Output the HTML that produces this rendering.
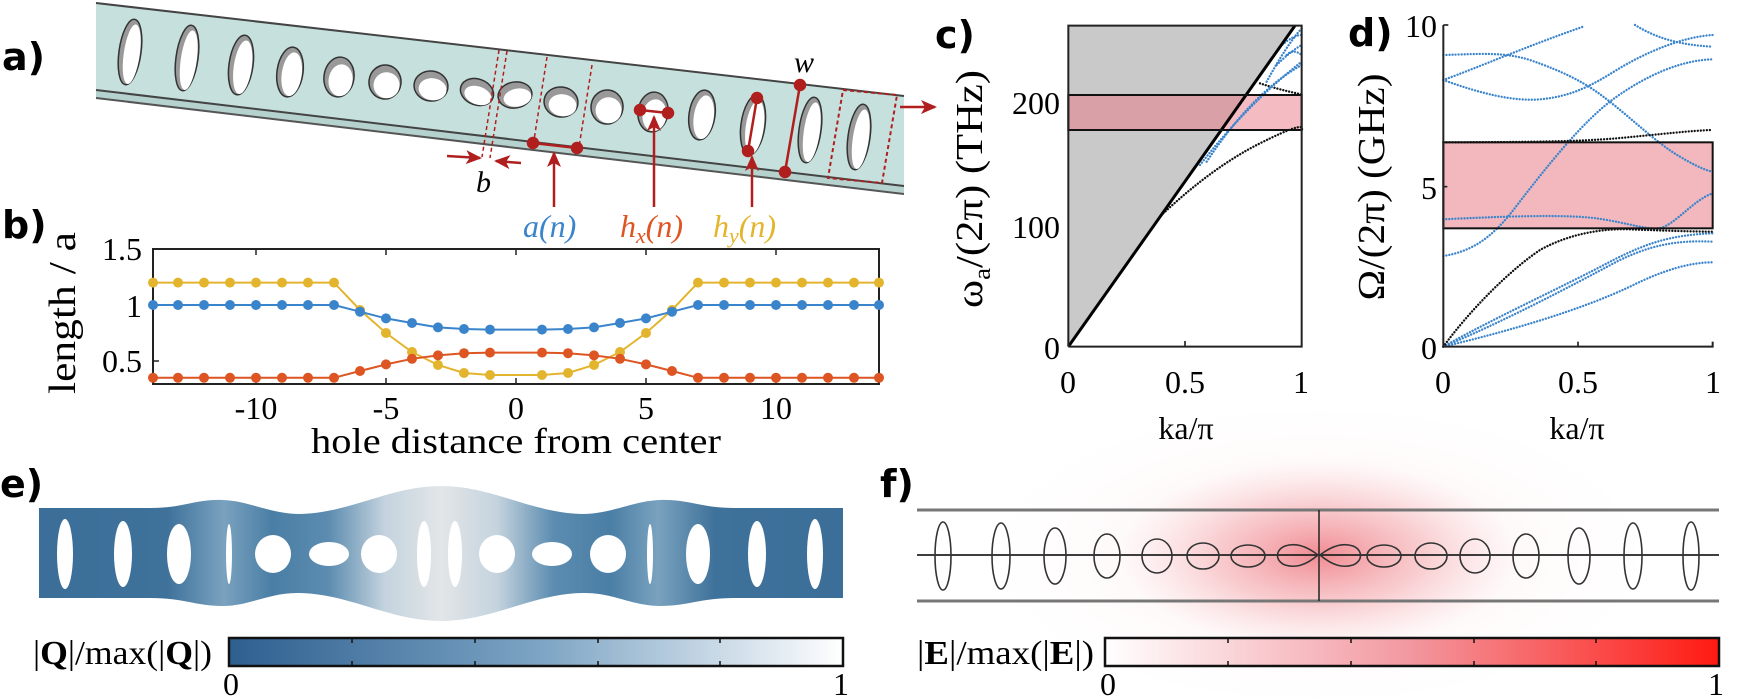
<!DOCTYPE html>
<html><head><meta charset="utf-8"><style>
html,body{margin:0;padding:0;background:#fff;}
svg{display:block;}
.sf{font-family:"Liberation Serif",serif;}
.lb{font-family:"DejaVu Sans","Liberation Sans",sans-serif;font-weight:bold;font-size:38px;}
</style></head><body>
<svg width="1750" height="698" viewBox="0 0 1750 698" xmlns="http://www.w3.org/2000/svg">
<defs>
<marker id="mb" markerUnits="userSpaceOnUse" markerWidth="12" markerHeight="12" refX="6" refY="6"><circle cx="6" cy="6" r="5" fill="#3a84cc"/></marker>
<marker id="mr" markerUnits="userSpaceOnUse" markerWidth="12" markerHeight="12" refX="6" refY="6"><circle cx="6" cy="6" r="5" fill="#dd5522"/></marker>
<marker id="my" markerUnits="userSpaceOnUse" markerWidth="12" markerHeight="12" refX="6" refY="6"><circle cx="6" cy="6" r="5" fill="#e3b52e"/></marker>
<marker id="ar" markerUnits="userSpaceOnUse" markerWidth="16" markerHeight="14" refX="14" refY="7" orient="auto"><path d="M0,0 L16,7 L0,14 L4,7 Z" fill="#b01e1e"/></marker>
<linearGradient id="eg" x1="39" x2="843" gradientUnits="userSpaceOnUse">
<stop offset="0" stop-color="#3b6e98"/><stop offset="0.16" stop-color="#3f729b"/><stop offset="0.23" stop-color="#7aa2bf"/><stop offset="0.29" stop-color="#4a7ea5"/><stop offset="0.36" stop-color="#5c8cb0"/><stop offset="0.43" stop-color="#c4d3de"/><stop offset="0.5" stop-color="#e3e6e8"/><stop offset="0.57" stop-color="#c4d3de"/><stop offset="0.64" stop-color="#5c8cb0"/><stop offset="0.71" stop-color="#4a7ea5"/><stop offset="0.77" stop-color="#7aa2bf"/><stop offset="0.84" stop-color="#3f729b"/><stop offset="1" stop-color="#3b6e98"/>
</linearGradient>
<linearGradient id="qc" x1="0" x2="1"><stop offset="0" stop-color="#2e5f8f"/><stop offset="0.5" stop-color="#7ba3c3"/><stop offset="1" stop-color="#ffffff"/></linearGradient>
<linearGradient id="ec" x1="0" x2="1"><stop offset="0" stop-color="#ffffff"/><stop offset="0.5" stop-color="#f2979f"/><stop offset="1" stop-color="#ff1a12"/></linearGradient>
<radialGradient id="glow" cx="0.5" cy="0.5" r="0.5"><stop offset="0" stop-color="#e63c48" stop-opacity="0.55"/><stop offset="0.5" stop-color="#ec6a72" stop-opacity="0.3"/><stop offset="1" stop-color="#f5a0a6" stop-opacity="0"/></radialGradient>
<radialGradient id="glow2" cx="0.5" cy="0.5" r="0.5"><stop offset="0" stop-color="#f08088" stop-opacity="0.15"/><stop offset="1" stop-color="#f8c0c4" stop-opacity="0"/></radialGradient>
</defs>

<!-- ===== Panel a ===== -->
<text x="2" y="70" class="lb">a)</text>
<polygon points="96,3 904,96 904,186 96,90" fill="#c6e1dd"/>
<polygon points="96,90 904,186 904,194 96,98" fill="#b5d2ce"/>
<line x1="96" y1="3" x2="904" y2="96" stroke="#444" stroke-width="2"/>
<line x1="96" y1="90" x2="904" y2="186" stroke="#444" stroke-width="2"/>
<line x1="96" y1="98" x2="904" y2="194" stroke="#555" stroke-width="2"/>
<g stroke="#333" stroke-width="1.5">
<g transform="rotate(8 130 52)"><ellipse cx="130" cy="52" rx="11" ry="33" fill="#999"/><ellipse cx="132" cy="54" rx="8" ry="30" fill="#fff" stroke="none"/></g>
<g transform="rotate(8 187 58)"><ellipse cx="187" cy="58" rx="11" ry="33" fill="#999"/><ellipse cx="189" cy="60" rx="8" ry="30" fill="#fff" stroke="none"/></g>
<g transform="rotate(8 241 65)"><ellipse cx="241" cy="65" rx="12" ry="30" fill="#999"/><ellipse cx="243" cy="67" rx="9" ry="27" fill="#fff" stroke="none"/></g>
<g transform="rotate(8 290 72)"><ellipse cx="290" cy="72" rx="13" ry="25" fill="#999"/><ellipse cx="292" cy="74" rx="10" ry="22" fill="#fff" stroke="none"/></g>
<g transform="rotate(8 339 77)"><ellipse cx="339" cy="77" rx="15" ry="20" fill="#999"/><ellipse cx="341" cy="80" rx="12" ry="16" fill="#fff" stroke="none"/></g>
<g transform="rotate(8 385 82)"><ellipse cx="385" cy="82" rx="16" ry="17" fill="#999"/><ellipse cx="387" cy="85" rx="13" ry="13" fill="#fff" stroke="none"/></g>
<g transform="rotate(8 431 86)"><ellipse cx="431" cy="86" rx="17" ry="15" fill="#999"/><ellipse cx="433" cy="89" rx="14" ry="11" fill="#fff" stroke="none"/></g>
<g transform="rotate(20 477 92)"><ellipse cx="477" cy="92" rx="17" ry="13" fill="#999"/><ellipse cx="479" cy="95" rx="14" ry="9" fill="#fff" stroke="none"/></g>
<g transform="rotate(-10 515 95)"><ellipse cx="515" cy="95" rx="17" ry="13" fill="#999"/><ellipse cx="517" cy="98" rx="14" ry="9" fill="#fff" stroke="none"/></g>
<g transform="rotate(8 561 102)"><ellipse cx="561" cy="102" rx="17" ry="15" fill="#999"/><ellipse cx="563" cy="105" rx="14" ry="11" fill="#fff" stroke="none"/></g>
<g transform="rotate(8 607 107)"><ellipse cx="607" cy="107" rx="16" ry="17" fill="#999"/><ellipse cx="609" cy="110" rx="13" ry="13" fill="#fff" stroke="none"/></g>
<g transform="rotate(8 653 112)"><ellipse cx="653" cy="112" rx="15" ry="20" fill="#999"/><ellipse cx="655" cy="115" rx="12" ry="16" fill="#fff" stroke="none"/></g>
<g transform="rotate(8 702 115)"><ellipse cx="702" cy="115" rx="13" ry="25" fill="#999"/><ellipse cx="704" cy="117" rx="10" ry="22" fill="#fff" stroke="none"/></g>
<g transform="rotate(8 753 125)"><ellipse cx="753" cy="125" rx="12" ry="30" fill="#999"/><ellipse cx="755" cy="127" rx="9" ry="27" fill="#fff" stroke="none"/></g>
<g transform="rotate(8 810 130)"><ellipse cx="810" cy="130" rx="11" ry="33" fill="#999"/><ellipse cx="812" cy="132" rx="8" ry="30" fill="#fff" stroke="none"/></g>
<g transform="rotate(8 859 137)"><ellipse cx="859" cy="137" rx="11" ry="33" fill="#999"/><ellipse cx="861" cy="139" rx="8" ry="30" fill="#fff" stroke="none"/></g>
</g>
<g stroke="#b01e1e" stroke-width="1.5" stroke-dasharray="4,3" fill="none">
<line x1="499" y1="50" x2="482" y2="157"/><line x1="507" y1="51" x2="490" y2="158"/>
<line x1="547" y1="57" x2="534" y2="140"/><line x1="592" y1="65" x2="579" y2="147"/>
<polygon points="843,90 897,95 882,183 828,178" stroke-width="2"/>
</g>
<g stroke="#b01e1e" stroke-width="2.5" fill="#b01e1e">
<line x1="447" y1="156" x2="480" y2="158" marker-end="url(#ar)"/>
<line x1="521" y1="163" x2="496" y2="161" marker-end="url(#ar)"/>
<line x1="533" y1="143" x2="577" y2="148"/><circle cx="533" cy="143" r="5"/><circle cx="577" cy="148" r="5"/>
<line x1="554" y1="207" x2="554" y2="153" marker-end="url(#ar)"/>
<line x1="640" y1="110" x2="668" y2="113"/><circle cx="640" cy="110" r="5"/><circle cx="668" cy="113" r="5"/>
<line x1="654" y1="207" x2="654" y2="117" marker-end="url(#ar)"/>
<line x1="757" y1="98" x2="748" y2="151"/><circle cx="757" cy="98" r="5"/><circle cx="748" cy="151" r="5"/>
<line x1="752" y1="207" x2="752" y2="157" marker-end="url(#ar)"/>
<line x1="800" y1="85" x2="785" y2="172"/><circle cx="800" cy="85" r="5"/><circle cx="785" cy="172" r="5"/>
<line x1="900" y1="107" x2="935" y2="107" marker-end="url(#ar)"/>
</g>
<text x="476" y="192" class="sf" font-size="30" font-style="italic">b</text>
<text x="794" y="72" class="sf" font-size="30" font-style="italic">w</text>
<text x="523" y="237" class="sf" font-size="32" font-style="italic" fill="#3a84cc">a(n)</text>
<text x="620" y="237" class="sf" font-size="32" font-style="italic" fill="#dd5522">h<tspan font-size="22" dy="6">x</tspan><tspan dy="-6">(n)</tspan></text>
<text x="713" y="237" class="sf" font-size="32" font-style="italic" fill="#e3b52e">h<tspan font-size="22" dy="6">y</tspan><tspan dy="-6">(n)</tspan></text>

<!-- ===== Panel b ===== -->
<text x="2" y="238" class="lb">b)</text>
<rect x="153" y="249" width="726" height="135" fill="none" stroke="#222" stroke-width="2"/>
<g stroke="#222" stroke-width="1.5">
<line x1="256" y1="384" x2="256" y2="378"/><line x1="386" y1="384" x2="386" y2="378"/><line x1="516" y1="384" x2="516" y2="378"/><line x1="646" y1="384" x2="646" y2="378"/><line x1="776" y1="384" x2="776" y2="378"/>
<line x1="256" y1="249" x2="256" y2="255"/><line x1="386" y1="249" x2="386" y2="255"/><line x1="516" y1="249" x2="516" y2="255"/><line x1="646" y1="249" x2="646" y2="255"/><line x1="776" y1="249" x2="776" y2="255"/>
<line x1="153" y1="305" x2="159" y2="305"/><line x1="153" y1="361" x2="159" y2="361"/>
</g>
<g class="sf" font-size="32" text-anchor="end">
<text x="142" y="260">1.5</text><text x="142" y="317">1</text><text x="142" y="372">0.5</text>
</g>
<g class="sf" font-size="32" text-anchor="middle">
<text x="256" y="419">-10</text><text x="386" y="419">-5</text><text x="516" y="419">0</text><text x="646" y="419">5</text><text x="776" y="419">10</text>
<text x="516" y="453" font-size="36" textLength="410" lengthAdjust="spacingAndGlyphs">hole distance from center</text>
</g>
<text transform="translate(75 313) rotate(-90)" class="sf" font-size="38" text-anchor="middle" textLength="162" lengthAdjust="spacingAndGlyphs">length / a</text>
<g fill="none" stroke-width="2">
<polyline stroke="#e3b52e" marker-start="url(#my)" marker-mid="url(#my)" marker-end="url(#my)" points="153,282.6 178,282.6 204,282.6 230,282.6 256,282.6 282,282.6 308,282.6 334,282.6 360,310 386,333 412,352 438,365 464,373 490,375 542,375 568,373 594,365 620,352 646,333 672,310 698,282.6 724,282.6 750,282.6 776,282.6 802,282.6 828,282.6 854,282.6 879,282.6"/>
<polyline stroke="#3a84cc" marker-start="url(#mb)" marker-mid="url(#mb)" marker-end="url(#mb)" points="153,305 178,305 204,305 230,305 256,305 282,305 308,305 334,305 360,311.7 386,318.4 412,323 438,327.4 464,329 490,329.6 542,329.6 568,329 594,327.4 620,323 646,318.4 672,311.7 698,305 724,305 750,305 776,305 802,305 828,305 854,305 879,305"/>
<polyline stroke="#dd5522" marker-start="url(#mr)" marker-mid="url(#mr)" marker-end="url(#mr)" points="153,377.8 178,377.8 204,377.8 230,377.8 256,377.8 282,377.8 308,377.8 334,377.8 360,371 386,364.4 412,358.8 438,355.4 464,353.2 490,352.6 542,352.6 568,353.2 594,355.4 620,358.8 646,364.4 672,371 698,377.8 724,377.8 750,377.8 776,377.8 802,377.8 828,377.8 854,377.8 879,377.8"/>
</g>

<!-- ===== Panel c ===== -->
<text x="935" y="48" class="lb">c)</text>
<g transform="translate(1060 15) scale(0.33333)">
<polygon points="25,995 25,32 705,32" fill="#c9c9c9"/>
<rect x="25" y="240" width="700" height="105" fill="#eb7888" fill-opacity="0.5"/>
<g fill="none" stroke-linecap="round" stroke-dasharray="0.1,9" stroke-width="7">
<path d="M310,595 Q460,455 600,385 T725,345" stroke="#111"/>
<path d="M600,205 Q660,225 725,238" stroke="#111"/>
<path d="M420,450 Q560,270 725,140" stroke="#3a84cc"/>
<path d="M440,440 Q580,230 725,150" stroke="#3a84cc"/>
<path d="M620,200 Q680,90 725,40" stroke="#3a84cc"/>
<path d="M650,150 Q690,110 725,90" stroke="#3a84cc"/>
<path d="M660,95 Q700,60 725,60" stroke="#3a84cc"/>
<path d="M680,120 Q700,100 725,120" stroke="#3a84cc"/>
</g>
<line x1="25" y1="995" x2="705" y2="32" stroke="#000" stroke-width="9"/>
<rect x="25" y="240" width="700" height="105" fill="none" stroke="#111" stroke-width="6"/>
<polyline points="25,995 25,32 725,32 725,995 25,995" fill="none" stroke="#222" stroke-width="6"/>
<line x1="375" y1="995" x2="375" y2="978" stroke="#222" stroke-width="5"/>
</g>
<g class="sf" font-size="32" text-anchor="end">
<text x="1060" y="114">200</text><text x="1060" y="238">100</text><text x="1060" y="359">0</text>
</g>
<g class="sf" font-size="32" text-anchor="middle">
<text x="1068" y="393">0</text><text x="1185" y="393">0.5</text><text x="1301" y="393">1</text>
<text x="1186" y="439">ka/π</text>
</g>
<text transform="translate(982 189) rotate(-90)" class="sf" font-size="38" text-anchor="middle" textLength="238" lengthAdjust="spacingAndGlyphs">ω<tspan font-size="24" dy="8">a</tspan><tspan dy="-8">/(2π) (THz)</tspan></text>

<!-- ===== Panel d ===== -->
<text x="1348" y="46" class="lb">d)</text>
<g transform="translate(1430 10) scale(0.33333)">
<rect x="40" y="397" width="808" height="258" fill="#f2b8be"/>
<g fill="none" stroke-linecap="round" stroke-dasharray="0.1,9" stroke-width="7">
<path d="M40,135 C150,132 220,125 300,150 C400,185 460,215 520,260 C600,320 680,400 750,440 C800,470 830,482 848,485" stroke="#3a84cc"/>
<path d="M40,210 C150,170 300,105 465,48" stroke="#3a84cc"/>
<path d="M40,210 C150,250 250,275 330,268 C420,260 480,230 560,180 C650,125 760,80 848,75" stroke="#3a84cc"/>
<path d="M615,45 C680,85 750,105 848,110" stroke="#3a84cc"/>
<path d="M40,738 C120,725 180,690 250,600 C350,470 460,330 560,260 C660,190 760,150 848,148" stroke="#3a84cc"/>
<path d="M40,628 C200,620 400,612 500,625 C600,640 650,660 690,655 C740,640 790,570 848,550" stroke="#3a84cc"/>
<path d="M40,1010 C200,920 400,830 550,750 C650,700 720,675 848,670" stroke="#3a84cc"/>
<path d="M40,1010 C220,935 420,830 560,755 C660,705 740,690 848,695" stroke="#3a84cc"/>
<path d="M40,1010 C250,960 450,900 600,830 C700,780 780,757 848,757" stroke="#3a84cc"/>
<path d="M40,1010 C120,900 240,780 330,720 C420,670 520,655 600,658 C700,662 800,665 848,665" stroke="#111"/>
<path d="M40,397 C300,396 440,395 560,385 C700,372 780,362 848,360" stroke="#111"/>
</g>
<rect x="40" y="397" width="808" height="258" fill="none" stroke="#111" stroke-width="6"/>
<polyline points="40,45 40,1010 848,1010 848,995" fill="none" stroke="#222" stroke-width="6"/>
<line x1="40" y1="45" x2="55" y2="45" stroke="#222" stroke-width="5"/>
<line x1="444" y1="1010" x2="444" y2="995" stroke="#222" stroke-width="5"/>
<line x1="40" y1="530" x2="52" y2="530" stroke="#222" stroke-width="5"/>
</g>
<g class="sf" font-size="32" text-anchor="end">
<text x="1437" y="37">10</text><text x="1437" y="199">5</text><text x="1437" y="359">0</text>
</g>
<g class="sf" font-size="32" text-anchor="middle">
<text x="1443" y="393">0</text><text x="1578" y="393">0.5</text><text x="1713" y="393">1</text>
<text x="1577" y="439">ka/π</text>
</g>
<text transform="translate(1384 187) rotate(-90)" class="sf" font-size="38" text-anchor="middle" textLength="227" lengthAdjust="spacingAndGlyphs">Ω/(2π) (GHz)</text>

<!-- ===== Panel e ===== -->
<text x="0" y="497" class="lb">e)</text>
<path d="M39,508 L150,508 C185,508 195,499 223,500 C250,501 270,514 300,514 C350,513 390,486 441,486 C492,486 532,513 582,514 C612,514 632,501 660,500 C688,499 700,508 735,508 L843,508 L843,598 L735,598 C700,598 688,606 660,606 C632,606 612,592 582,593 C532,594 492,621 441,621 C390,621 350,594 300,593 C270,592 250,606 223,606 C195,606 185,598 150,598 L39,598 Z" fill="url(#eg)"/>
<g fill="#fff">
<ellipse cx="65" cy="554" rx="8" ry="35"/><ellipse cx="123" cy="554" rx="9" ry="33"/><ellipse cx="179" cy="554" rx="12" ry="30"/><ellipse cx="229" cy="554" rx="3" ry="30"/>
<ellipse cx="273" cy="554" rx="18" ry="19"/><ellipse cx="329" cy="554" rx="20" ry="12"/><ellipse cx="379" cy="554" rx="18" ry="19"/>
<ellipse cx="424" cy="554" rx="7" ry="33"/><ellipse cx="455" cy="554" rx="7" ry="33"/>
<ellipse cx="497" cy="554" rx="18" ry="19"/><ellipse cx="552" cy="554" rx="20" ry="12"/><ellipse cx="608" cy="554" rx="18" ry="19"/>
<ellipse cx="650" cy="554" rx="3" ry="30"/><ellipse cx="698" cy="554" rx="12" ry="30"/><ellipse cx="757" cy="554" rx="9" ry="33"/><ellipse cx="815" cy="554" rx="8" ry="35"/>
</g>
<rect x="229" y="638" width="614" height="28" fill="url(#qc)" stroke="#111" stroke-width="2.5"/>
<g stroke="#111" stroke-width="1.5">
<line x1="352" y1="638" x2="352" y2="643"/><line x1="475" y1="638" x2="475" y2="643"/><line x1="598" y1="638" x2="598" y2="643"/><line x1="720" y1="638" x2="720" y2="643"/>
<line x1="352" y1="666" x2="352" y2="661"/><line x1="475" y1="666" x2="475" y2="661"/><line x1="598" y1="666" x2="598" y2="661"/><line x1="720" y1="666" x2="720" y2="661"/>
</g>
<text x="33" y="664" class="sf" font-size="34" textLength="179" lengthAdjust="spacingAndGlyphs">|<tspan font-weight="bold">Q</tspan>|/max(|<tspan font-weight="bold">Q</tspan>|)</text>
<g class="sf" font-size="32" text-anchor="middle"><text x="231" y="695">0</text><text x="841" y="695">1</text></g>

<!-- ===== Panel f ===== -->
<text x="880" y="497" class="lb">f)</text>
<ellipse cx="1319" cy="555" rx="330" ry="150" fill="url(#glow2)"/>
<ellipse cx="1319" cy="555" rx="200" ry="95" fill="url(#glow)"/>
<g stroke="#777" stroke-width="3"><line x1="917" y1="510" x2="1719" y2="510"/><line x1="917" y1="601" x2="1719" y2="601"/></g>
<line x1="917" y1="555" x2="1719" y2="555" stroke="#222" stroke-width="1.8"/>
<line x1="1319" y1="510" x2="1319" y2="601" stroke="#222" stroke-width="1.5"/>
<g fill="none" stroke="#333" stroke-width="1.6">
<ellipse cx="943" cy="556" rx="8" ry="34"/><ellipse cx="1001" cy="556" rx="9" ry="33"/><ellipse cx="1055" cy="556" rx="11" ry="28"/><ellipse cx="1107" cy="556" rx="13" ry="22"/>
<ellipse cx="1157" cy="556" rx="15" ry="17"/><ellipse cx="1203" cy="556" rx="16" ry="13"/><ellipse cx="1248" cy="556" rx="17" ry="11"/>
<path d="M1318,555 C1305,545 1295,543 1285,546 C1275,550 1275,561 1285,565 C1295,568 1305,566 1318,555 Z"/>
<path d="M1320,555 C1333,545 1343,543 1353,546 C1363,550 1363,561 1353,565 C1343,568 1333,566 1320,555 Z"/>
<ellipse cx="1384" cy="556" rx="17" ry="11"/><ellipse cx="1431" cy="556" rx="16" ry="13"/><ellipse cx="1475" cy="556" rx="15" ry="17"/>
<ellipse cx="1526" cy="556" rx="13" ry="22"/><ellipse cx="1579" cy="556" rx="11" ry="28"/><ellipse cx="1633" cy="556" rx="9" ry="33"/><ellipse cx="1691" cy="556" rx="8" ry="34"/>
</g>
<rect x="1105" y="638" width="614" height="28" fill="url(#ec)" stroke="#111" stroke-width="2.5"/>
<g stroke="#111" stroke-width="1.5">
<line x1="1228" y1="638" x2="1228" y2="643"/><line x1="1351" y1="638" x2="1351" y2="643"/><line x1="1474" y1="638" x2="1474" y2="643"/><line x1="1596" y1="638" x2="1596" y2="643"/>
<line x1="1228" y1="666" x2="1228" y2="661"/><line x1="1351" y1="666" x2="1351" y2="661"/><line x1="1474" y1="666" x2="1474" y2="661"/><line x1="1596" y1="666" x2="1596" y2="661"/>
</g>
<text x="917" y="664" class="sf" font-size="34" textLength="177" lengthAdjust="spacingAndGlyphs">|<tspan font-weight="bold">E</tspan>|/max(|<tspan font-weight="bold">E</tspan>|)</text>
<g class="sf" font-size="32" text-anchor="middle"><text x="1108" y="695">0</text><text x="1716" y="695">1</text></g>
</svg>
</body></html>
